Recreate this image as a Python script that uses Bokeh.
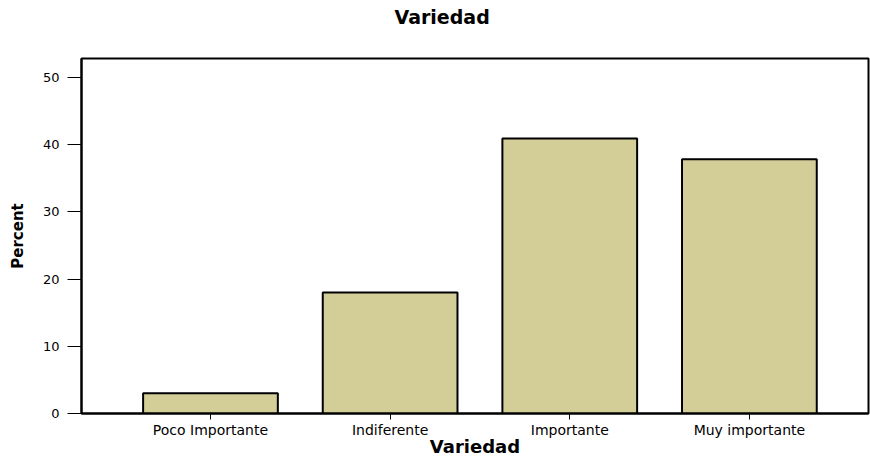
from bokeh.plotting import figure
from bokeh.embed import file_html
from bokeh.resources import INLINE
from bokeh.models import FixedTicker, Range1d, ColumnDataSource, Title

categories = ["Poco Importante", "Indiferente", "Importante", "Muy importante"]
percent = [3.0, 18.0, 40.9, 37.8]
y_ticks = [0, 10, 20, 30, 40, 50]

xpos = list(range(1, len(categories) + 1))
src = ColumnDataSource(dict(x=xpos, top=percent))

p = figure(width=870, height=459, output_backend="svg", toolbar_location=None,
           x_range=Range1d(0.282, 4.663), y_range=Range1d(0, 52.8),
           min_border_left=81, min_border_top=58, min_border_bottom=42, min_border_right=2,
           title="Variedad")
p.title.align = "left"
p.title.offset = 313
p.title.text_font = "DejaVu Sans"
p.title.text_font_style = "bold"
p.title.text_font_size = "19px"
p.title.text_color = "black"
p.title.standoff = 6

# spacer between title and frame
p.add_layout(Title(text=" ", text_font_size="1px", standoff=25), "above")

p.vbar(x="x", top="top", width=0.75, source=src, fill_color="#D3CD98",
       line_color="black", line_width=2)

p.xgrid.visible = False
p.ygrid.visible = False
p.outline_line_color = "black"
p.outline_line_width = 2

p.xaxis.ticker = FixedTicker(ticks=xpos)
p.xaxis.major_label_overrides = {i: c for i, c in zip(xpos, categories)}
p.xaxis.axis_label = "Variedad"
p.yaxis.ticker = FixedTicker(ticks=y_ticks)
p.yaxis.axis_label = "Percent"

for ax in (p.xaxis[0], p.yaxis[0]):
    ax.axis_line_color = "black"
    ax.axis_line_width = 2
    ax.major_tick_line_color = "black"
    ax.major_tick_line_width = 1
    ax.minor_tick_line_color = None
    ax.major_tick_in = 0
    ax.major_label_text_font = "DejaVu Sans"
    ax.major_label_text_color = "black"
    ax.axis_label_text_color = "black"

p.xaxis.major_label_text_font_size = "14px"
p.xaxis.major_tick_out = 6
p.xaxis.major_label_standoff = 2
p.xaxis.axis_label_standoff = -5
p.xaxis.axis_label_text_font = "DejaVu Sans"
p.xaxis.axis_label_text_font_style = "bold"
p.xaxis.axis_label_text_font_size = "18px"

p.yaxis.major_label_text_font_size = "13px"
p.yaxis.major_tick_out = 14
p.yaxis.major_label_standoff = 8
p.yaxis.major_label_orientation = "horizontal"
p.yaxis.axis_label_standoff = 13
p.yaxis.axis_label_text_font = "DejaVu Sans"
p.yaxis.axis_label_text_font_style = "bold"
p.yaxis.axis_label_text_font_size = "15px"

open("out.html", "w").write(file_html(p, INLINE))
